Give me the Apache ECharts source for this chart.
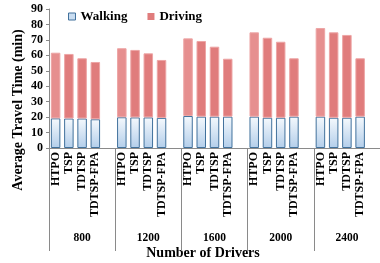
<!DOCTYPE html>
<html><head><meta charset="utf-8">
<script src="https://cdn.jsdelivr.net/npm/echarts@6/dist/echarts.min.js"></script>
<style>html,body{margin:0;padding:0;background:#fff}#c{width:380px;height:263px}</style>
</head><body><div id="c"></div>
<script>
const methods = ['HTPO','TSP','TDTSP','TDTSP-FPA'];
const drivers = ['800','1200','1600','2000','2400'];
const walking = [
  19.2,19.1,19.1,18.6,
  19.9,19.8,19.8,19.5,
  20.7,20.3,20.3,20.3,
  20.3,19.6,19.6,20.3,
  20.3,19.6,19.6,20.3
];
const driving = [
  42.5,41.8,39.0,37.1,
  44.7,43.7,41.5,37.5,
  50.3,49.0,45.3,37.5,
  54.6,51.8,49.2,37.8,
  57.4,55.3,53.6,37.8
];
const yTicks = [0,10,20,30,40,50,60,70,80,90];

const FONT = 'Liberation Serif';
const cats = [], wData = [], dData = [];
drivers.forEach((g, gi) => {
  methods.forEach((m, mi) => {
    const k = gi * methods.length + mi;
    cats.push(m);
    wData.push(walking[k]);
    dData.push({value: driving[k], itemStyle: {color: mi === 0 ? '#E68F8F' : '#E07C7C'}});
  });
  cats.push('');
  wData.push('-');
  dData.push('-');
});

const chart = echarts.init(document.getElementById('c'), null, {renderer: 'canvas'});
chart.setOption({
  animation: false,
  backgroundColor: '#fff',
  grid: {left: 49, right: -11, top: 9, bottom: 115},
  legend: {
    left: 63, top: 5, itemWidth: 7, itemHeight: 7, itemGap: 20,
    textStyle: {fontFamily: FONT, fontWeight: 'bold', fontSize: 13, color: '#000'},
    data: [
      {name: 'Walking', icon: 'rect', itemStyle: {color: '#C9DDF1', borderColor: '#41719C', borderWidth: 1}},
      {name: 'Driving', icon: 'rect', itemStyle: {color: '#E07C7C', borderWidth: 0}}
    ]
  },
  xAxis: [
    {
      type: 'category', data: cats, position: 'bottom',
      axisLine: {show: true, lineStyle: {color: '#8a8a8a', width: 1}},
      axisTick: {show: false},
      axisLabel: {rotate: 90, interval: 0, margin: 4, fontFamily: FONT, fontWeight: 'bold', fontSize: 12, color: '#000'}
    },
    {
      type: 'category', data: drivers, position: 'bottom',
      axisLine: {show: false},
      axisTick: {show: true, length: 103, lineStyle: {color: '#8a8a8a', width: 1}},
      axisLabel: {margin: 84, fontFamily: FONT, fontWeight: 'bold', fontSize: 11.5, color: '#000'}
    }
  ],
  yAxis: {
    type: 'value', min: yTicks[0], max: yTicks[yTicks.length - 1], interval: 10,
    axisLine: {show: true, lineStyle: {color: '#8a8a8a', width: 1}},
    axisTick: {show: true, length: 3, lineStyle: {color: '#8a8a8a'}},
    splitLine: {show: false},
    axisLabel: {margin: 6, fontFamily: FONT, fontWeight: 'bold', fontSize: 12, color: '#000'}
  },
  series: [
    {
      name: 'Walking', type: 'bar', stack: 't', data: wData, barWidth: 9.5, xAxisIndex: 0,
      itemStyle: {
        color: new echarts.graphic.LinearGradient(0, 0, 0, 1, [
          {offset: 0, color: '#F5F9FD'}, {offset: 1, color: '#B3CEEA'}
        ]),
        borderColor: '#41719C', borderWidth: 1
      }
    },
    {
      name: 'Driving', type: 'bar', stack: 't', data: dData, barWidth: 9.5, xAxisIndex: 0,
      itemStyle: {color: '#E07C7C', borderColor: '#EDA5A5', borderWidth: 1}
    }
  ],
  graphic: [
    {type: 'text', x: 18, y: 110, rotation: Math.PI / 2,
      style: {text: 'Average Travel Time (min)', fontFamily: FONT, fontWeight: 'bold', fontSize: 14, fill: '#000', align: 'center', verticalAlign: 'middle'}},
    {type: 'text', x: 203, y: 253,
      style: {text: 'Number of Drivers', fontFamily: FONT, fontWeight: 'bold', fontSize: 14, fill: '#000', align: 'center', verticalAlign: 'middle'}}
  ]
});
</script></body></html>
